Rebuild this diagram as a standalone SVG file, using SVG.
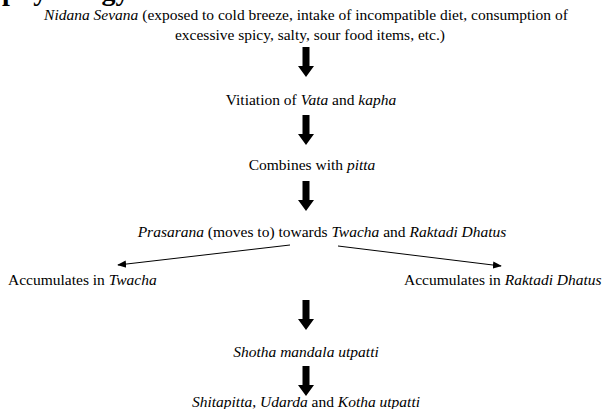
<svg xmlns="http://www.w3.org/2000/svg" width="609" height="409" viewBox="0 0 609 409">
<defs>
<style>
text{font-family:"Liberation Serif","Times New Roman",serif;font-size:15.5px;fill:#000;}
.c{text-anchor:middle;}
.i{font-style:italic;}
.h{font-weight:bold;font-size:28px;}
.ln{stroke:#000;stroke-width:1;fill:none;}
.blk{fill:#000;}
</style>
<marker id="ah" viewBox="0 0 10 10" refX="9" refY="5" markerWidth="9" markerHeight="9" markerUnits="userSpaceOnUse" orient="auto">
<path d="M0,1 L10,5 L0,9 Z" fill="#000"/>
</marker>
<path id="bigArrow" d="M-3.5,0 L3.5,0 L3.5,19 L8,19 L0,30 L-8,19 L-3.5,19 Z"/>
</defs>
<rect width="609" height="409" fill="#fff"/>
<text class="h" x="2" y="0">physiology</text>
<g id="n1">
<text class="c" x="306" y="20"><tspan class="i">Nidana Sevana</tspan> (exposed to cold breeze, intake of incompatible diet, consumption of</text>
<text class="c" x="310" y="40">excessive spicy, salty, sour food items, etc.)</text>
</g>
<g id="n2"><text class="c" x="311" y="105">Vitiation of <tspan class="i">Vata</tspan> and <tspan class="i">kapha</tspan></text></g>
<g id="n3"><text class="c" x="312" y="170">Combines with <tspan class="i">pitta</tspan></text></g>
<g id="n4"><text class="c" x="322" y="237"><tspan class="i">Prasarana</tspan> (moves to) towards <tspan class="i">Twacha</tspan> and <tspan class="i">Raktadi Dhatus</tspan></text></g>
<g id="n5"><text x="8" y="285">Accumulates in <tspan class="i">Twacha</tspan></text></g>
<g id="n6"><text x="404" y="285">Accumulates in <tspan class="i">Raktadi Dhatus</tspan></text></g>
<g id="n7"><text class="c i" x="306" y="357">Shotha mandala utpatti</text></g>
<g id="n8"><text class="c" x="306" y="407"><tspan class="i">Shitapitta</tspan>, <tspan class="i">Udarda</tspan> and <tspan class="i">Kotha utpatti</tspan></text></g>
<g id="connectors">
<use href="#bigArrow" class="blk" x="306" y="47"/>
<use href="#bigArrow" class="blk" x="306" y="115"/>
<use href="#bigArrow" class="blk" x="306" y="181"/>
<use href="#bigArrow" class="blk" x="306" y="300"/>
<use href="#bigArrow" class="blk" x="306" y="366"/>
<line class="ln" x1="290" y1="245" x2="118" y2="265" marker-end="url(#ah)"/>
<line class="ln" x1="338" y1="246" x2="501" y2="266" marker-end="url(#ah)"/>
</g>
</svg>
